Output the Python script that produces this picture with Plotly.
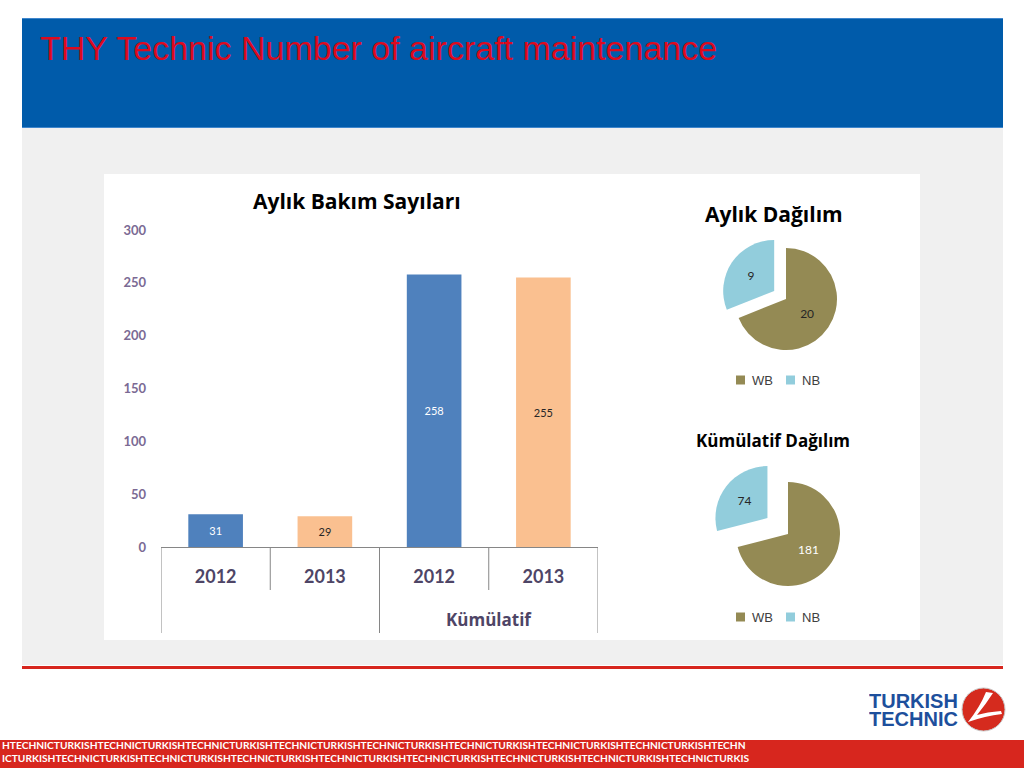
import plotly.graph_objects as go

# ---------------- data ----------------
year_labels = ["2012", "2013", "2012", "2013"]
group_labels = ["", "Kümülatif"]
bar_values = [31, 29, 258, 255]
bar_colors = ["#4F81BD", "#FAC090", "#4F81BD", "#FAC090"]
bar_text_colors = ["#FFFFFF", "#262626", "#FFFFFF", "#262626"]
y_ticks = [0, 50, 100, 150, 200, 250, 300]

pie_labels = ["WB", "NB"]
monthly_values = [20, 9]
cumulative_values = [181, 74]
pie_colors = ["#948A54", "#92CDDC"]

W, H = 1024, 768
Y0, HH = 8, 752          # compensation for the vertical placement of the page photo
def px(x): return x / W
def py(y): return 1 - (y - Y0) / HH

x_pos = list(range(len(year_labels)))

fig = go.Figure()

fig.add_trace(go.Bar(
    x=x_pos, y=bar_values, width=0.5,
    marker=dict(color=bar_colors, line=dict(width=0)),
    text=[str(v) for v in bar_values], textposition="inside",
    insidetextanchor="middle", textangle=0, constraintext="none",
    textfont=dict(family="Lato", size=11, color=bar_text_colors),
    showlegend=False, hoverinfo="skip",
))

def pie_domain(cx, cy, half):
    return dict(x=[px(cx - half), px(cx + half)], y=[py(cy + half), py(cy - half)])

pull1, r1 = 0.28, 51
pull2, r2 = 0.5, 52
fig.add_trace(go.Pie(
    labels=pie_labels, values=monthly_values, sort=False, direction="clockwise",
    rotation=0, pull=[0, pull1],
    marker=dict(colors=pie_colors, line=dict(width=0)),
    textinfo="value", textposition="inside", insidetextorientation="horizontal",
    textfont=dict(family="Lato", size=12, color=["#262626", "#262626"]),
    domain=pie_domain(786, 299, r1 * (1 + pull1)),
    showlegend=False, hoverinfo="skip",
))

fig.add_trace(go.Pie(
    labels=pie_labels, values=cumulative_values, sort=False, direction="clockwise",
    rotation=0, pull=[0, pull2],
    marker=dict(colors=pie_colors, line=dict(width=0)),
    textinfo="value", textposition="inside", insidetextorientation="horizontal",
    textfont=dict(family="Lato", size=12, color=["#FFFFFF", "#262626"]),
    domain=pie_domain(788, 534, r2 * (1 + pull2)),
    showlegend=False, hoverinfo="skip",
))

shapes = []
def rect(x0, y0, x1, y1, color, layer="below"):
    shapes.append(dict(type="rect", xref="paper", yref="paper",
                       x0=px(x0), x1=px(x1), y0=py(y1), y1=py(y0),
                       fillcolor=color, line=dict(width=0), layer=layer))

# page decorations
rect(22, 18, 1003, 128, "#005BAA")
rect(22, 18, 1003, 19, "#3F86CC")
rect(22, 127, 1003, 129, "#3F86CC")
rect(22, 128, 1003, 665, "#F0F0F0")
rect(22, 666, 1003, 669, "#D7261E")
rect(104, 174, 920, 640, "#FFFFFF")
rect(0, 740, 1024, 770, "#D7261E")

# category axis dividers (Excel style)
axis_grey = "#868686"
for i, xv in enumerate([-0.5, 0.5, 1.5, 2.5, 3.5]):
    long = i % 2 == 0
    shapes.append(dict(type="line", xref="x", yref="paper", x0=xv, x1=xv,
                       y0=py(633 if long else 590), y1=py(547),
                       line=dict(color=axis_grey, width=1)))

# logo circle
shapes.append(dict(type="circle", xref="paper", yref="paper",
                   x0=px(962), x1=px(1005), y0=py(731), y1=py(688),
                   fillcolor="#D52B1E", line=dict(color="#C8C8C8", width=1)))
def path(pts):
    s = ""
    for cmd, *c in pts:
        s += cmd
        for i in range(0, len(c), 2):
            s += f" {px(c[i]):.5f},{py(c[i+1]):.5f}"
        s += " "
    return s + "Z"
shapes.append(dict(type="path", xref="paper", yref="paper",
                   path=path([("M", 986, 692), ("Q", 980, 707, 968, 722),
                              ("Q", 985, 716, 1002, 714), ("L", 1001, 711),
                              ("Q", 987, 712, 977, 715),
                              ("Q", 986, 704, 993, 693)]),
                   fillcolor="#FFFFFF", line=dict(width=0)))

annotations = []
def note(text, x, y, size, color, family="Lato", xanchor="center", yanchor="middle", **kw):
    annotations.append(dict(text=text, x=px(x), y=py(y), xref="paper", yref="paper",
                            xanchor=xanchor, yanchor=yanchor, showarrow=False,
                            font=dict(family=family, size=size, color=color, shadow="none"), **kw))

note("THY Technic Number of aircraft maintenance", 38, 48, 34, "#DC0A1E",
     family="Liberation Sans", xanchor="left")
note("<b>Aylık Bakım Sayıları</b>", 357, 201, 21, "#000000", family="Open Sans")
note("<b>Aylık Dağılım</b>", 774, 214, 21, "#000000", family="Open Sans")
note("<b>Kümülatif Dağılım</b>", 773, 440, 17, "#000000", family="Open Sans")
annotations.append(dict(text=f"<b>{group_labels[1]}</b>", x=2.5, y=py(619), xref="x", yref="paper",
                        showarrow=False, xanchor="center", yanchor="middle",
                        font=dict(family="Open Sans", size=17, color="#4E4566")))
note("<b>TURKISH</b>", 868, 700, 20, "#1D4F9C", family="Liberation Sans",
     xanchor="left", height=17, borderpad=0, valign="middle")
note("<b>TECHNIC</b>", 868, 718, 20, "#1D4F9C", family="Liberation Sans",
     xanchor="left", height=17, borderpad=0, valign="middle")

# pie legends (colour key squares + labels) built from the pie labels / colours
for ly in (380, 617):
    for i, (lab, c) in enumerate(zip(pie_labels, pie_colors)):
        x0 = 736 + 50 * i
        rect(x0, ly - 4.5, x0 + 9, ly + 4.5, c, layer="above")
        note(lab, x0 + 14, ly, 13, "#404040", family="Liberation Sans", xanchor="left")

line1 = "HTECHNIC" + "TURKISHTECHNIC" * 7 + "TURKISHTECHN"
line2 = "IC" + "TURKISHTECHNIC" * 8 + "TURKIS"
note(f"<b>{line1}</b>", 0, 745, 10.2, "#FFFFFF", xanchor="left")
note(f"<b>{line2}</b>", 0, 758, 10.2, "#FFFFFF", xanchor="left")

fig.update_layout(
    width=W, height=H, margin=dict(l=0, r=0, t=0, b=0),
    paper_bgcolor="#FFFFFF", plot_bgcolor="rgba(0,0,0,0)",
    shapes=shapes, annotations=annotations, showlegend=False,
    xaxis=dict(domain=[px(161), px(598)], range=[-0.5, 3.5],
               tickmode="array", tickvals=x_pos, ticktext=[f"<b>{t}</b>" for t in year_labels],
               tickfont=dict(family="Lato", size=18, color="#4E4566"),
               ticks="", ticklabelstandoff=13,
               showline=True, linecolor=axis_grey, linewidth=1,
               showgrid=False, zeroline=False, fixedrange=True),
    yaxis=dict(domain=[py(547), py(230)], range=[0, 300],
               tickmode="array", tickvals=y_ticks, ticktext=[f"<b>{t}</b>" for t in y_ticks],
               tickfont=dict(family="Lato", size=13, color="#7B6A94"),
               ticks="", ticklabelstandoff=14,
               showline=False, showgrid=False, zeroline=False, fixedrange=True),
)

bg = "linear-gradient(to bottom, #FFFFFF 0%, #FFFFFF 50%, #D7261E 50%, #D7261E 100%)"
fig.write_html("out.html", config=dict(displayModeBar=False, staticPlot=True),
               post_script=("document.documentElement.style.margin='0';"
                            "document.body.style.margin='0';document.body.style.padding='0';"
                            f"document.documentElement.style.background='{bg}';"
                            "document.documentElement.style.minHeight='100%';"))
